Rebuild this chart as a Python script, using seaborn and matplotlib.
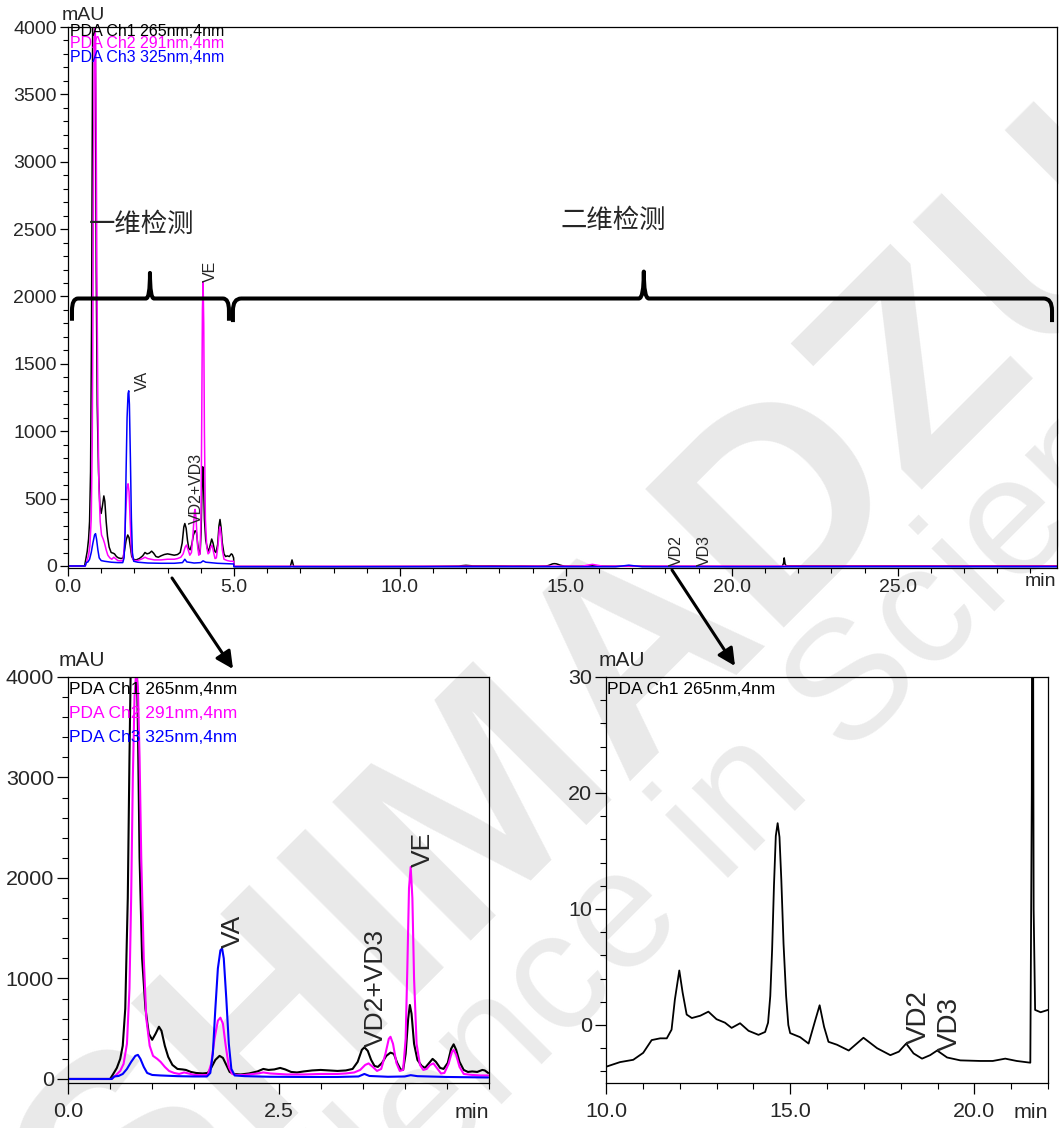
import matplotlib
matplotlib.use("Agg")
import matplotlib.pyplot as plt
import numpy as np
import pandas as pd
import seaborn as sns
from matplotlib import font_manager
from matplotlib.path import Path
from matplotlib.patches import PathPatch, FancyArrowPatch
from matplotlib.ticker import MultipleLocator, FixedLocator, FuncFormatter

# ---------------------------------------------------------------- data
channels = ["PDA Ch1 265nm,4nm", "PDA Ch2 291nm,4nm", "PDA Ch3 325nm,4nm"]
channel_colors = ["#000000", "#ff00ff", "#0000ff"]

# first dimension (0-5 min), three detection wavelengths
t1_ch1 = [0.00, 0.50, 0.53, 0.58, 0.62, 0.65, 0.68, 0.71, 0.73, 0.75,
          0.78, 0.81, 0.83, 0.85, 0.88, 0.92, 0.96, 1.00, 1.04, 1.08,
          1.11, 1.15, 1.19, 1.24, 1.30, 1.36, 1.40, 1.46, 1.52, 1.60,
          1.66, 1.70, 1.75, 1.80, 1.84, 1.88, 1.92, 1.97, 2.05, 2.15,
          2.25, 2.32, 2.38, 2.45, 2.52, 2.58, 2.65, 2.72, 2.80, 2.90,
          3.00, 3.10, 3.20, 3.30, 3.38, 3.44, 3.49, 3.52, 3.56, 3.60,
          3.64, 3.68, 3.73, 3.78, 3.83, 3.87, 3.91, 3.95, 3.98, 4.01,
          4.04, 4.06, 4.08, 4.11, 4.15, 4.20, 4.24, 4.28, 4.33, 4.37,
          4.42, 4.46, 4.51, 4.55, 4.58, 4.61, 4.65, 4.70, 4.75, 4.80,
          4.86, 4.92, 4.95, 4.99]
v1_ch1 = [0, 0, 40, 110, 200, 330, 700, 1800, 3200, 4400,
          4800, 4500, 3500, 2200, 1200, 700, 450, 390, 450, 520,
          480, 330, 220, 140, 100, 95, 90, 70, 60, 55,
          60, 110, 190, 230, 210, 140, 70, 50, 45, 55,
          75, 100, 90, 95, 110, 95, 70, 65, 75, 85,
          90, 85, 80, 85, 100, 170, 290, 315, 280, 190,
          130, 120, 160, 230, 262, 250, 160, 95, 90, 250,
          600, 736, 650, 350, 190, 130, 110, 150, 200, 170,
          110, 100, 160, 300, 345, 290, 170, 90, 70, 75,
          70, 90, 85, 60]

t1_ch2 = [0.00, 0.52, 0.56, 0.62, 0.66, 0.70, 0.73, 0.75, 0.77, 0.79,
          0.81, 0.83, 0.85, 0.87, 0.90, 0.93, 0.97, 1.01, 1.06, 1.10,
          1.15, 1.20, 1.26, 1.32, 1.38, 1.43, 1.50, 1.60, 1.66, 1.70,
          1.74, 1.78, 1.81, 1.84, 1.87, 1.91, 1.95, 2.00, 2.10, 2.25,
          2.32, 2.40, 2.50, 2.60, 2.80, 3.00, 3.20, 3.30, 3.40, 3.47,
          3.53, 3.57, 3.62, 3.67, 3.72, 3.77, 3.81, 3.83, 3.86, 3.90,
          3.94, 3.98, 4.01, 4.03, 4.05, 4.07, 4.09, 4.11, 4.14, 4.18,
          4.22, 4.26, 4.30, 4.34, 4.38, 4.43, 4.47, 4.52, 4.56, 4.58,
          4.61, 4.65, 4.70, 4.80, 4.90, 4.99]
v1_ch2 = [0, 0, 30, 80, 150, 350, 900, 1800, 3000, 3800,
          4050, 3900, 3200, 2200, 1200, 600, 330, 230, 200, 170,
          120, 80, 60, 50, 65, 55, 40, 38, 40, 150,
          400, 580, 610, 550, 350, 120, 50, 40, 40, 55,
          65, 55, 50, 45, 45, 50, 50, 55, 65, 90,
          140, 155, 120, 80, 100, 250, 400, 420, 350, 160,
          80, 90, 400, 1100, 1900, 2110, 1800, 1000, 350, 140,
          90, 100, 140, 155, 110, 55, 60, 150, 270, 290,
          240, 120, 50, 40, 35, 35]

t1_ch3 = [0.00, 0.52, 0.55, 0.60, 0.65, 0.70, 0.75, 0.80, 0.83, 0.86,
          0.90, 0.94, 1.00, 1.10, 1.30, 1.50, 1.65, 1.69, 1.72, 1.75,
          1.78, 1.81, 1.83, 1.85, 1.88, 1.91, 1.94, 1.98, 2.10, 2.40,
          2.80, 3.20, 3.45, 3.52, 3.58, 3.80, 4.00, 4.07, 4.15, 4.50,
          4.99]
v1_ch3 = [0, 0, 25, 30, 50, 100, 170, 230, 240, 200,
          120, 60, 40, 35, 28, 25, 25, 60, 250, 700,
          1100, 1280, 1300, 1200, 800, 350, 100, 35, 28, 22,
          20, 20, 25, 50, 30, 22, 25, 38, 28, 20,
          15]

# second dimension (5-30 min)
t2_ch1 = [5.00, 6.70, 6.75, 6.80, 8.00, 9.50, 10.00, 10.38, 10.74, 11.01,
          11.24, 11.47, 11.65, 11.78, 11.87, 11.99, 12.08, 12.19, 12.33, 12.56,
          12.78, 13.00, 13.23, 13.41, 13.64, 13.87, 14.14, 14.32, 14.40, 14.46,
          14.51, 14.56, 14.61, 14.66, 14.71, 14.76, 14.82, 14.89, 14.95, 15.00,
          15.27, 15.50, 15.68, 15.80, 15.92, 16.04, 16.27, 16.59, 16.99, 17.36,
          17.72, 17.95, 18.15, 18.35, 18.58, 18.80, 18.99, 19.26, 19.62, 20.16,
          20.50, 20.84, 21.15, 21.52, 21.56, 21.58, 21.61, 21.65, 21.80, 22.00,
          25.00, 29.80]
v2_ch1 = [-4.0, -4.0, 45.0, -4.0, -4.5, -4.0, -3.6, -3.2, -3.0, -2.4,
          -1.3, -1.15, -1.15, -0.4, 2.2, 4.7, 2.8, 0.9, 0.6, 0.8,
          1.15, 0.5, 0.2, -0.25, 0.15, -0.5, -0.85, -0.6, 0.2, 2.5,
          6.5, 12.0, 16.3, 17.4, 16.2, 12.5, 7.0, 2.5, 0.0, -0.7,
          -1.05, -1.6, 0.4, 1.7, -0.15, -1.45, -1.7, -2.2, -1.1, -2.0,
          -2.6, -2.3, -1.6, -2.45, -2.9, -2.6, -2.2, -2.8, -3.05, -3.1,
          -3.1, -2.9, -3.1, -3.25, 20.0, 60.0, 10.0, 1.3, 1.1, 1.3,
          1.0, 0.8]

t2_ch2 = [5.00, 10.00, 15.50, 15.80, 16.10, 22.00, 29.80]
v2_ch2 = [-2.0, -2.0, -1.0, 12.0, -1.0, -1.0, -1.0]

t2_ch3 = [5.00, 16.50, 16.90, 17.30, 29.80]
v2_ch3 = [-6.0, -6.0, 6.0, -6.0, -6.0]

# peak annotations: (time, height, label)
peaks_1d = [(1.82, 1300, "VA"), (3.52, 315, "VD2+VD3"), (4.07, 2110, "VE")]
peaks_2d = [(18.15, -1.6, "VD2"), (18.99, -2.2, "VD3")]

# ---------------------------------------------------------------- style
sns.set_theme(style="ticks")
avail = {f.name for f in font_manager.fontManager.ttflist}
narrow = "Liberation Sans Narrow" if "Liberation Sans Narrow" in avail else "Liberation Sans"
nscale = 1.0 if narrow == "Liberation Sans Narrow" else 0.86
plt.rcParams["font.family"] = ["Liberation Sans", "DejaVu Sans"]
plt.rcParams["axes.edgecolor"] = "black"
plt.rcParams["axes.linewidth"] = 0.9
cjk = ["Noto Sans CJK SC", "DejaVu Sans"]

W, H = 1059, 1128
fig = plt.figure(figsize=(W / 100, H / 100), dpi=100)
fig.patch.set_facecolor("white")


def fx(x):
    return x / W


def fy(y):
    return 1 - y / H


def rect(l, t, r, b):
    return [fx(l), fy(b), (r - l) / W, (b - t) / H]


def frame(times, values, name):
    return pd.DataFrame({"time": times, "mAU": values, "channel": name})


df_1d = pd.concat([frame(t1_ch1, v1_ch1, channels[0]),
                   frame(t1_ch2, v1_ch2, channels[1]),
                   frame(t1_ch3, v1_ch3, channels[2])], ignore_index=True)
df_2d = pd.concat([frame(t2_ch1, v2_ch1, channels[0]),
                   frame(t2_ch2, v2_ch2, channels[1]),
                   frame(t2_ch3, v2_ch3, channels[2])], ignore_index=True)
df_all = pd.concat([df_1d, df_2d], ignore_index=True)
palette = dict(zip(channels, channel_colors))

# watermark behind the panels
fig.text(fx(600), fy(700), "SHIMADZU", rotation=45, rotation_mode="anchor",
         ha="center", va="center", fontsize=205, fontweight="bold",
         color="#e9e9e9", zorder=-5, family="Liberation Sans")
fig.text(fx(660), fy(885), "Excellence in Science", rotation=45,
         rotation_mode="anchor", ha="center", va="center", fontsize=122,
         color="#ebebeb", zorder=-5, family="Liberation Sans")

ax_top = fig.add_axes(rect(68, 27, 1057, 568))
ax_bl = fig.add_axes(rect(68, 677, 489, 1083))
ax_br = fig.add_axes(rect(606, 677, 1048, 1083))
for ax in (ax_top, ax_bl, ax_br):
    ax.patch.set_alpha(0)

# ---------------------------------------------------------------- traces
sns.lineplot(data=df_all, x="time", y="mAU", hue="channel", hue_order=channels,
             palette=palette, estimator=None, linewidth=1.1, legend=False, ax=ax_top)
sns.lineplot(data=df_1d, x="time", y="mAU", hue="channel", hue_order=channels,
             palette=palette, estimator=None, linewidth=1.5, legend=False, ax=ax_bl)
sns.lineplot(data=df_2d[df_2d["channel"] == channels[0]], x="time", y="mAU",
             color="black", estimator=None, linewidth=1.3, legend=False, ax=ax_br)

fmt1 = FuncFormatter(lambda v, p: f"{v:.1f}")
fmt0 = FuncFormatter(lambda v, p: f"{v:.0f}")

# overview panel
ax_top.set_xlim(0, 29.8)
ax_top.set_ylim(-15, 4000)
ax_top.xaxis.set_major_locator(FixedLocator([0, 5, 10, 15, 20, 25]))
ax_top.xaxis.set_minor_locator(MultipleLocator(1))
ax_top.yaxis.set_major_locator(MultipleLocator(500))
ax_top.yaxis.set_minor_locator(MultipleLocator(100))
ax_top.xaxis.set_major_formatter(fmt1)
ax_top.yaxis.set_major_formatter(fmt0)
ax_top.tick_params(which="major", direction="out", length=6, width=0.9, color="black",
                   labelsize=14, pad=2, labelfontfamily="Liberation Sans")
ax_top.tick_params(which="minor", direction="out", length=3.5, width=0.8, color="black")

# first-dimension zoom
ax_bl.set_xlim(0, 5.0)
ax_bl.set_ylim(-40, 4000)
ax_bl.xaxis.set_major_locator(FixedLocator([0, 2.5]))
ax_bl.xaxis.set_minor_locator(MultipleLocator(0.5))
ax_bl.yaxis.set_major_locator(MultipleLocator(1000))
ax_bl.yaxis.set_minor_locator(MultipleLocator(200))
ax_bl.xaxis.set_major_formatter(fmt1)
ax_bl.yaxis.set_major_formatter(fmt0)

# second-dimension zoom
ax_br.set_xlim(10, 22)
ax_br.set_ylim(-5, 30)
ax_br.xaxis.set_major_locator(FixedLocator([10, 15, 20]))
ax_br.xaxis.set_minor_locator(MultipleLocator(1))
ax_br.yaxis.set_major_locator(MultipleLocator(10))
ax_br.yaxis.set_minor_locator(MultipleLocator(2))
ax_br.xaxis.set_major_formatter(fmt1)
ax_br.yaxis.set_major_formatter(fmt0)

for ax in (ax_bl, ax_br):
    ax.tick_params(which="major", direction="out", length=8, width=0.9, color="black",
                   labelsize=18 * nscale, pad=2, labelfontfamily=narrow)
    ax.tick_params(axis="x", which="major", pad=6)
    ax.tick_params(which="minor", direction="out", length=4.5, width=0.8, color="black")

for ax in (ax_top, ax_bl, ax_br):
    ax.set_xlabel("")
    ax.set_ylabel("")
    for s in ax.spines.values():
        s.set_visible(True)
        s.set_color("black")

# ---------------------------------------------------------------- labels
fig.text(fx(62), fy(15), "mAU", fontsize=14, ha="left", va="center")
fig.text(fx(1056), fy(581), "min", fontsize=14, ha="right", va="center")
fig.text(fx(59), fy(661), "mAU", fontsize=17.5 * nscale, ha="left", va="center", family=narrow)
fig.text(fx(489), fy(1112), "min", fontsize=18 * nscale, ha="right", va="center", family=narrow)
fig.text(fx(599), fy(661), "mAU", fontsize=17.5 * nscale, ha="left", va="center", family=narrow)
fig.text(fx(1048), fy(1112), "min", fontsize=18 * nscale, ha="right", va="center", family=narrow)

for name, col, yy in zip(channels, channel_colors, [31, 44, 58]):
    fig.text(fx(70), fy(yy), name, color=col, fontsize=11.5, ha="left", va="center")
for name, col, yy in zip(channels, channel_colors, [690, 713, 737]):
    fig.text(fx(69), fy(yy), name, color=col, fontsize=14.5 * nscale,
             ha="left", va="center", family=narrow)
fig.text(fx(607), fy(690), channels[0], color="black", fontsize=14.5 * nscale,
         ha="left", va="center", family=narrow)

fig.text(fx(89), fy(224), "一维检测", fontsize=19, ha="left", va="center", family=cjk)
fig.text(fx(560), fy(220), "二维检测", fontsize=19, ha="left", va="center", family=cjk)

top_offsets = {"VA": 5, "VD2+VD3": 3, "VE": 0}
for t, v, lab in peaks_1d:
    ax_top.annotate(lab, xy=(t, v), xytext=(top_offsets[lab], 0), textcoords="offset points",
                    rotation=90, ha="left", va="bottom", fontsize=11.5)
    ax_bl.annotate(lab, xy=(t, v), xytext=(0, 0), textcoords="offset points",
                   rotation=90, ha="left", va="bottom", fontsize=19)
for t, v, lab in peaks_2d:
    ax_top.annotate(lab, xy=(t, 0), xytext=(-1, 0), textcoords="offset points",
                    rotation=90, ha="left", va="bottom", fontsize=11.5)
    ax_br.annotate(lab, xy=(t, v), xytext=(0, 0), textcoords="offset points",
                   rotation=90, ha="left", va="bottom", fontsize=20)


# ---------------------------------------------------------------- braces
def brace(ax, x0, x1, xtip, ybase, ytip, yend, rx, ry, rtip):
    verts = [(x0, yend), (x0, ybase - ry), (x0, ybase), (x0 + rx, ybase),
             (xtip - rtip, ybase), (xtip, ybase), (xtip, ytip),
             (xtip, ybase), (xtip + rtip, ybase),
             (x1 - rx, ybase), (x1, ybase), (x1, ybase - ry), (x1, yend)]
    codes = [Path.MOVETO, Path.LINETO, Path.CURVE3, Path.CURVE3,
             Path.LINETO, Path.CURVE3, Path.CURVE3, Path.CURVE3, Path.CURVE3,
             Path.LINETO, Path.CURVE3, Path.CURVE3, Path.LINETO]
    ax.add_patch(PathPatch(Path(verts, codes), fill=False, lw=2.9, edgecolor="black",
                           joinstyle="round", capstyle="butt", clip_on=False, zorder=5))


brace(ax_top, 0.12, 4.85, 2.47, 1985, 2175, 1820, 0.18, 90, 0.12)
brace(ax_top, 4.97, 29.65, 17.35, 1985, 2185, 1810, 0.25, 90, 0.15)

# ---------------------------------------------------------------- arrows
for (xa, ya), (xb, yb) in [((172, 578), (233, 669)), ((672, 570), (735, 666))]:
    fig.add_artist(FancyArrowPatch((fx(xa), fy(ya)), (fx(xb), fy(yb)),
                                   transform=fig.transFigure, arrowstyle="-|>",
                                   mutation_scale=26, lw=2.2, color="black",
                                   shrinkA=0, shrinkB=0))

fig.savefig("out.png", dpi=100, facecolor="white")
